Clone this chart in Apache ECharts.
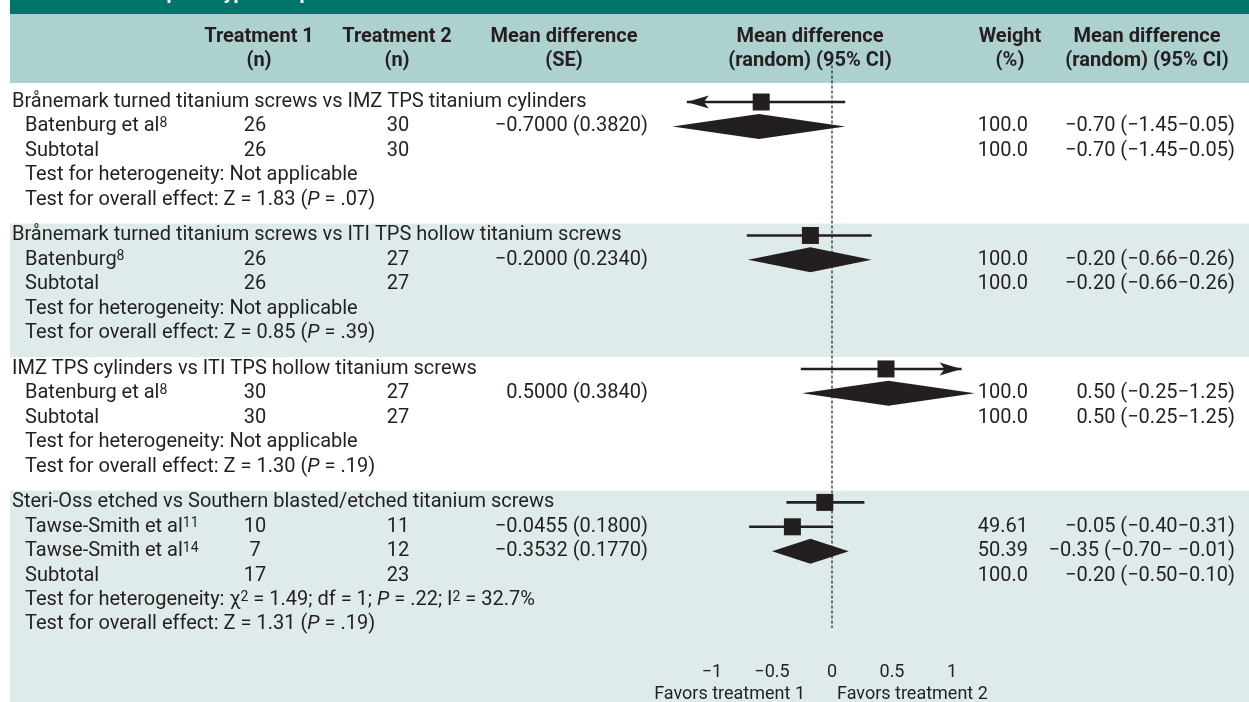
<!DOCTYPE html>
<html>
<head>
<meta charset="utf-8">
<title>Implant type comparisons</title>
<script src="https://cdn.jsdelivr.net/npm/echarts@6/dist/echarts.min.js"></script>
<style>
  html, body { margin: 0; padding: 0; background: #fff; }
  #forest { width: 1249px; height: 702px; }
</style>
</head>
<body>
<div id="forest"></div>
<script>
// ---- table data ----
const groupNames = [
  "Brånemark turned titanium screws vs IMZ TPS titanium cylinders",
  "Brånemark turned titanium screws vs ITI TPS hollow titanium screws",
  "IMZ TPS cylinders vs ITI TPS hollow titanium screws",
  "Steri-Oss etched vs Southern blasted/etched titanium screws",
];

const studyGroup = [0, 1, 2, 3, 3];
const studyNames = ["Batenburg et al", "Batenburg", "Batenburg et al", "Tawse-Smith et al", "Tawse-Smith et al"];
const studyRefs = ["8", "8", "8", "11", "14"];
const studyN1 = [26, 26, 30, 10, 7];
const studyN2 = [30, 27, 27, 11, 12];
const studyMean = [-0.7, -0.2, 0.5, -0.0455, -0.3532];
const studySE = [0.382, 0.234, 0.384, 0.18, 0.177];
const studyWeight = ["100.0", "100.0", "100.0", "49.61", "50.39"];
const studyLow = [-1.45, -0.66, -0.25, -0.4, -0.7];
const studyHigh = [0.05, 0.26, 1.25, 0.31, -0.01];

const subN1 = [26, 26, 30, 17];
const subN2 = [30, 27, 27, 23];
const subWeight = ["100.0", "100.0", "100.0", "100.0"];
const subMean = [-0.7, -0.2, 0.5, -0.2];
const subLow = [-1.45, -0.66, -0.25, -0.5];
const subHigh = [0.05, 0.26, 1.25, 0.1];

const hetChi2 = [null, null, null, "1.49"];
const hetDf = [null, null, null, "1"];
const hetP = [null, null, null, ".22"];
const hetI2 = [null, null, null, "32.7%"];
const overallZ = ["1.83", "0.85", "1.30", "1.31"];
const overallP = [".07", ".39", ".19", ".19"];

// where the marks sit in the drawing (it does not follow the table exactly)
const plotSquare = [-0.59, -0.18, 0.45, -0.06, -0.33];
const plotLineLow = [-1.21, -0.71, -0.26, -0.38, -0.69];
const plotLineHigh = [0.11, 0.33, 1.08, 0.27, 0.01];
const plotArrow = [-1, 0, 1, 0, 0]; // -1 arrow on the left end, 1 on the right
const plotDiamondLow = [-1.33, -0.7, -0.25, -0.5];
const plotDiamondMid = [-0.61, -0.18, 0.47, -0.18];
const plotDiamondHigh = [0.11, 0.33, 1.19, 0.14];
const refValue = 0;

const xTicks = [-1, -0.5, 0, 0.5, 1];
const favorLabels = ["Favors treatment 1", "Favors treatment 2"];

// ---- layout ----
const INK = "#231f20";
const FONT = "Roboto";
const ROW_PX = 24.4;
const FIRST_ROW_Y = 102;
const GROUP_GAP = 0.47;
const X_ZERO = 832;
const X_UNIT = 120;
const slotY = (slot) => FIRST_ROW_Y + slot * ROW_PX;

const COL_N1 = 255;
const COL_N2 = 398;
const COL_MD = 648;
const COL_WEIGHT = 1028;
const COL_CI = 1235;

function signed(v, digits) {
  return (v < 0 ? "\u2212" : "") + Math.abs(v).toFixed(digits);
}

function ciText(mean, low, high) {
  return `${signed(mean, 2)} (${signed(low, 2)}\u2212${high < 0 ? " " : ""}${signed(high, 2)})`;
}

const RICH = {
  sup: { fontFamily: FONT, fontSize: 14, lineHeight: 14, verticalAlign: "top", fill: INK },
  it: { fontFamily: FONT, fontSize: 20, fontStyle: "italic", fill: INK },
};

function label(x, y, text, align, extra) {
  return {
    type: "text",
    x: x,
    y: y,
    z: 5,
    style: Object.assign(
      {
        text: text,
        textAlign: align || "left",
        textVerticalAlign: "middle",
        fill: INK,
        fontFamily: FONT,
        fontSize: 20,
        lineHeight: 20,
        rich: RICH,
      },
      extra || {}
    ),
  };
}

let groupSlot = [];
let studySlot = [];
let subtotalSlot = [];
let lastSlot = 0;
let texts = [];

let slot = 0;
groupNames.forEach((name, g) => {
  if (g > 0) slot += GROUP_GAP;
  groupSlot.push(slot);
  texts.push(label(12, slotY(slot), name));
  slot += 1;

  studyGroup.forEach((sg, i) => {
    if (sg !== g) return;
    studySlot[i] = slot;
    let y = slotY(slot);
    texts.push(label(25, y, `${studyNames[i]}{sup|${studyRefs[i]}}`));
    texts.push(label(COL_N1, y, String(studyN1[i]), "center"));
    texts.push(label(COL_N2, y, String(studyN2[i]), "center"));
    texts.push(label(COL_MD, y, `${signed(studyMean[i], 4)} (${studySE[i].toFixed(4)})`, "right"));
    texts.push(label(COL_WEIGHT, y, studyWeight[i], "right"));
    texts.push(label(COL_CI, y, ciText(studyMean[i], studyLow[i], studyHigh[i]), "right"));
    slot += 1;
  });

  subtotalSlot.push(slot);
  let y = slotY(slot);
  texts.push(label(25, y, "Subtotal"));
  texts.push(label(COL_N1, y, String(subN1[g]), "center"));
  texts.push(label(COL_N2, y, String(subN2[g]), "center"));
  texts.push(label(COL_WEIGHT, y, subWeight[g], "right"));
  texts.push(label(COL_CI, y, ciText(subMean[g], subLow[g], subHigh[g]), "right"));
  slot += 1;

  let het = hetChi2[g] === null
    ? "Test for heterogeneity: Not applicable"
    : `Test for heterogeneity: \u03c7{sup|2} = ${hetChi2[g]}; df = ${hetDf[g]}; {it|P} = ${hetP[g]}; I{sup|2} = ${hetI2[g]}`;
  texts.push(label(25, slotY(slot), het));
  slot += 1;

  texts.push(label(25, slotY(slot), `Test for overall effect: Z = ${overallZ[g]} ({it|P} = ${overallP[g]})`));
  lastSlot = slot;
  slot += 1;
});

// column headings
const headFont = { fontWeight: "bold", fontSize: 20 };
const headings = [
  [259, "Treatment 1", "(n)"],
  [397, "Treatment 2", "(n)"],
  [564, "Mean difference", "(SE)"],
  [810, "Mean difference", "(random) (95% CI)"],
  [1010, "Weight", "(%)"],
  [1147, "Mean difference", "(random) (95% CI)"],
];
headings.forEach(([x, a, b]) => {
  texts.push(label(x, 37, a, "center", headFont));
  texts.push(label(x, 61, b, "center", headFont));
});

// favours labels under the axis
texts.push(label(X_ZERO - 27, 694, favorLabels[0], "right", { fontSize: 18 }));
texts.push(label(X_ZERO + 5, 694, favorLabels[1], "left", { fontSize: 18 }));

// figure title in the dark bar, mostly cut off by the top edge
texts.push({
  type: "text",
  x: 63,
  y: 4,
  z: 5,
  style: {
    text: "Table 2   Implant type comparisons",
    textAlign: "left",
    textVerticalAlign: "bottom",
    fill: "#ffffff",
    fontFamily: FONT,
    fontWeight: "bold",
    fontSize: 20,
  },
});

// backgrounds
let bands = [
  { type: "rect", z: 0, shape: { x: 10, y: 0, width: 1239, height: 14 }, style: { fill: "#00736a" } },
  { type: "rect", z: 0, shape: { x: 10, y: 14, width: 1239, height: 69 }, style: { fill: "#acd1ce" } },
];
groupNames.forEach((_, g) => {
  if (g % 2 === 0) return;
  let top = slotY(groupSlot[g]) - 12;
  let bottom = g + 1 < groupNames.length ? slotY(groupSlot[g + 1]) - 12 : 702;
  bands.push({
    type: "rect",
    z: 0,
    shape: { x: 10, y: top, width: 1239, height: bottom - top },
    style: { fill: "#dfebea" },
  });
});

// ---- marks ----
const studyData = studyNames.map((_, i) => [
  plotLineLow[i],
  plotLineHigh[i],
  plotSquare[i],
  studySlot[i] - 1,
  plotArrow[i],
]);
const diamondData = groupNames.map((_, g) => [
  plotDiamondLow[g],
  plotDiamondHigh[g],
  plotDiamondMid[g],
  subtotalSlot[g] - 1,
]);
const refData = [[refValue, -1.5, lastSlot + 0.15]];

function renderStudy(params, api) {
  let y = api.value(3);
  let lo = api.coord([api.value(0), y]);
  let hi = api.coord([api.value(1), y]);
  let mid = api.coord([api.value(2), y]);
  let arrow = api.value(4);
  let size = 17;
  let children = [
    {
      type: "line",
      shape: { x1: lo[0], y1: lo[1], x2: hi[0], y2: hi[1] },
      style: { stroke: INK, lineWidth: 2.6 },
    },
    {
      type: "rect",
      shape: { x: mid[0] - size / 2, y: mid[1] - size / 2, width: size, height: size },
      style: { fill: INK },
    },
  ];
  if (arrow !== 0) {
    let tip = arrow < 0 ? lo : hi;
    let d = arrow < 0 ? 1 : -1;
    children.push({
      type: "polygon",
      shape: {
        points: [
          [tip[0], tip[1]],
          [tip[0] + d * 22, tip[1] - 6.5],
          [tip[0] + d * 17, tip[1]],
          [tip[0] + d * 22, tip[1] + 6.5],
        ],
      },
      style: { fill: INK },
    });
  }
  return { type: "group", children: children };
}

function renderDiamond(params, api) {
  let y = api.value(3);
  let lo = api.coord([api.value(0), y]);
  let hi = api.coord([api.value(1), y]);
  let mid = api.coord([api.value(2), y]);
  let h = 12.5;
  return {
    type: "polygon",
    shape: { points: [[lo[0], lo[1]], [mid[0], mid[1] - h], [hi[0], hi[1]], [mid[0], mid[1] + h]] },
    style: { fill: INK },
  };
}

function renderRef(params, api) {
  let top = api.coord([api.value(0), api.value(1)]);
  let bottom = api.coord([api.value(0), api.value(2)]);
  return {
    type: "line",
    shape: { x1: top[0], y1: top[1], x2: bottom[0], y2: bottom[1] },
    style: { stroke: INK, lineWidth: 1.2, lineDash: [3, 2] },
  };
}

let myChart = echarts.init(document.getElementById("forest"));

let option = {
  animation: false,
  backgroundColor: "#ffffff",
  graphic: { elements: bands.concat(texts) },
  grid: {
    left: X_ZERO - 1.5 * X_UNIT,
    width: 3 * X_UNIT,
    top: FIRST_ROW_Y,
    height: 23 * ROW_PX,
  },
  xAxis: {
    type: "value",
    min: -1.5,
    max: 1.5,
    interval: 0.5,
    axisLine: { show: false },
    axisTick: { show: false },
    splitLine: { show: false },
    axisLabel: {
      margin: 0,
      color: INK,
      fontFamily: FONT,
      fontSize: 18,
      lineHeight: 18,
      formatter: function (value) {
        if (!xTicks.includes(value)) return "";
        return (value < 0 ? "\u2212" : "") + Math.abs(value);
      },
    },
  },
  yAxis: {
    type: "value",
    inverse: true,
    min: 0,
    max: 23,
    show: false,
  },
  series: [
    { name: "reference", type: "custom", clip: false, z: 3, renderItem: renderRef, data: refData },
    { name: "studies", type: "custom", clip: false, z: 4, renderItem: renderStudy, data: studyData },
    { name: "subtotals", type: "custom", clip: false, z: 4, renderItem: renderDiamond, data: diamondData },
  ],
};

option && myChart.setOption(option);
</script>
</body>
</html>
